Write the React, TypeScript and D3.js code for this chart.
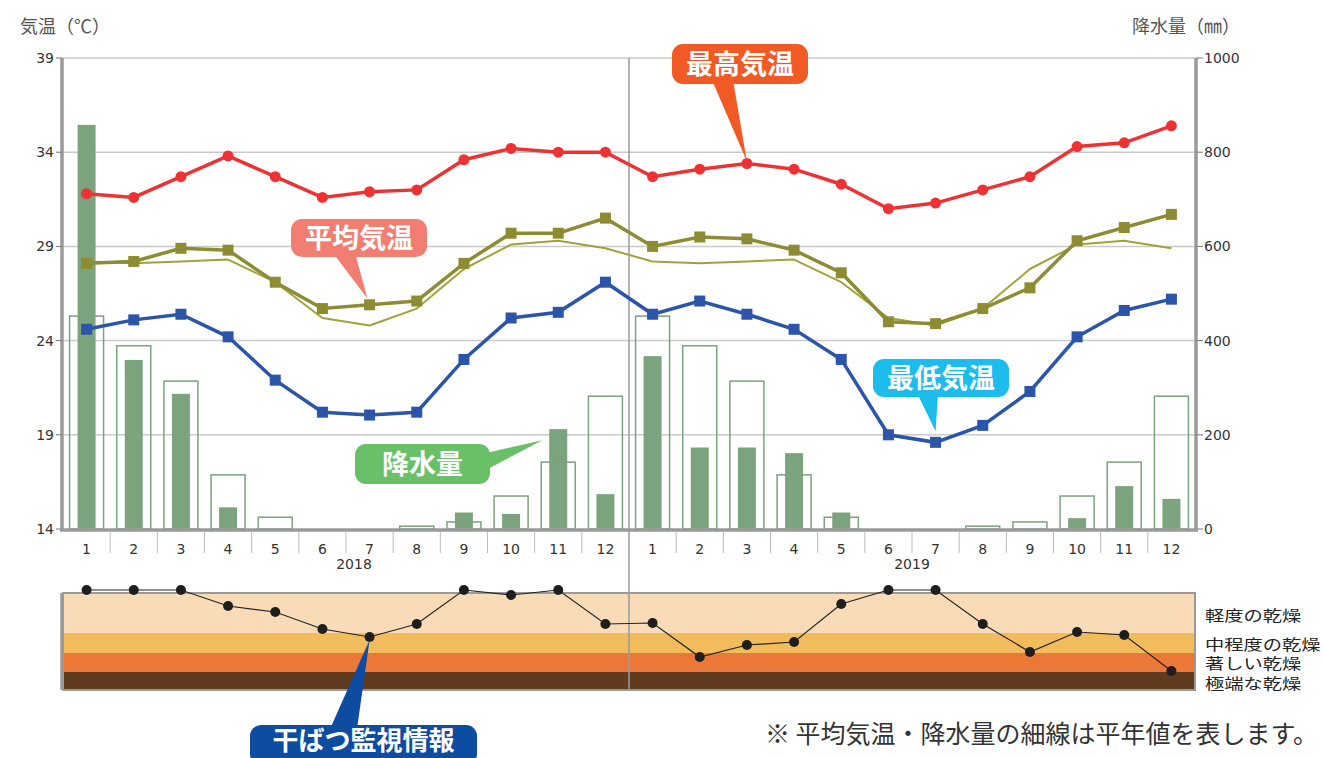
import React from "react";
import * as d3 from "d3";

const years = ["2018", "2019"];
const months = [1, 2, 3, 4, 5, 6, 7, 8, 9, 10, 11, 12];

const maxTemp = [31.8, 31.6, 32.7, 33.8, 32.7, 31.6, 31.9, 32.0, 33.6, 34.2, 34.0, 34.0,
  32.7, 33.1, 33.4, 33.1, 32.3, 31.0, 31.3, 32.0, 32.7, 34.3, 34.5, 35.4];
const avgTemp = [28.1, 28.2, 28.9, 28.8, 27.1, 25.7, 25.9, 26.1, 28.1, 29.7, 29.7, 30.5,
  29.0, 29.5, 29.4, 28.8, 27.6, 25.0, 24.9, 25.7, 26.8, 29.3, 30.0, 30.7];
const normalAvgTemp = [28.2, 28.1, 28.2, 28.3, 27.1, 25.2, 24.8, 25.7, 27.8, 29.1, 29.3, 28.9];
const minTemp = [24.6, 25.1, 25.4, 24.2, 21.9, 20.2, 20.05, 20.2, 23.0, 25.2, 25.5, 27.1,
  25.4, 26.1, 25.4, 24.6, 23.0, 19.0, 18.6, 19.5, 21.3, 24.2, 25.6, 26.2];
const precip = [858, 359, 287, 46, 0, 0, 0, 0, 35, 32, 212, 74,
  367, 173, 173, 161, 35, 0, 0, 0, 0, 23, 91, 64];
const normalPrecip = [452, 389, 314, 115, 25, 0, 0, 6, 15, 70, 142, 282];
// drought index: 0 = wettest (top) .. 100 = extreme drought (bottom)
const droughtIndex = [0, 0, 0, 16, 22, 39, 47, 34, 0, 5, 0, 34,
  33, 67, 55, 52, 14, 0, 0, 34, 62, 42, 45, 81];
const droughtLevels = ["軽度の乾燥", "中程度の乾燥", "著しい乾燥", "極端な乾燥"];
const droughtBounds = [3, 43, 63, 82, 100];
const droughtColors = ["#FADBB7", "#F2BB5B", "#EC7837", "#603B1E"];
const tempTicks = [14, 19, 24, 29, 34, 39];
const precipTicks = [0, 200, 400, 600, 800, 1000];

const FONT = "'Noto Sans CJK JP', 'Noto Sans', sans-serif";
const NUMFONT = "'DejaVu Sans', sans-serif";

const idx = d3.range(24);
const x = d3.scaleBand<number>().domain(idx).range([63, 1195]);
const cx = (i: number) => (x(i) as number) + x.bandwidth() / 2;
const yT = d3.scaleLinear().domain([14, 39]).range([529, 58]);
const yP = d3.scaleLinear().domain([0, 1000]).range([529, 58]);
const yD = d3.scaleLinear().domain([0, 100]).range([590, 690]);

function Callout({ box, color, text, base, tip, fs, ty }: any) {
  const [bx, by, bw, bh] = box;
  return (
    <g>
      <polygon points={`${base[0][0]},${base[0][1]} ${base[1][0]},${base[1][1]} ${tip[0]},${tip[1]}`} fill={color} />
      <rect x={bx} y={by} width={bw} height={bh} rx={11} fill={color} />
      <text x={bx + bw / 2} y={ty ?? by + bh / 2 + fs * 0.36} textAnchor="middle" fill="#fff"
        fontFamily={FONT} fontWeight="bold" fontSize={fs}>{text}</text>
    </g>
  );
}

export default function App() {
  const lineT = (data: number[]) =>
    d3.line<number>().x((_, i) => cx(i)).y((d) => yT(d))(data) as string;
  const normalSeries = [...normalAvgTemp, ...normalAvgTemp];
  const normalPrecipAll = [...normalPrecip, ...normalPrecip];
  const droughtLine = d3.line<number>().x((_, i) => cx(i)).y((d) => yD(d))(droughtIndex) as string;
  const xL = 63, xR = 1195;
  const yearDiv = x(12) as number;
  const sq = (px: number, py: number, s: number, color: string, key: any) => (
    <rect key={key} x={px - s / 2} y={py - s / 2} width={s} height={s} fill={color} />
  );

  return (
    <svg width={1323} height={758} style={{ position: "absolute", left: 0, top: 0, background: "#fff" }}>
      {/* axis titles */}
      <text x={20} y={33} fontFamily={FONT} fontSize={18} fill="#555">気温（℃）</text>
      <text x={1240} y={33} textAnchor="end" fontFamily={FONT} fontSize={18} fill="#555">降水量（㎜）</text>

      {/* gridlines */}
      {tempTicks.slice(1).map((t) => (
        <line key={t} x1={xL} x2={xR} y1={yT(t)} y2={yT(t)} stroke="#CACACA" strokeWidth={1.5} />
      ))}

      {/* year divider */}
      <line x1={yearDiv} x2={yearDiv} y1={58} y2={690} stroke="#9A9A9A" strokeWidth={1.5} />

      {/* precipitation bars */}
      {precip.map((p, i) => p > 0 && (
        <rect key={"b" + i} x={cx(i) - 9} y={yP(p)} width={18} height={yP(0) - yP(p)} fill="#7BA37E" />
      ))}
      {normalPrecipAll.map((p, i) => p > 0 && (
        <rect key={"n" + i} x={cx(i) - 17} y={yP(p)} width={34} height={yP(0) - yP(p)}
          fill="none" stroke="#7BA37E" strokeWidth={1.5} />
      ))}

      {/* temperature lines */}
      <path d={lineT(normalSeries)} fill="none" stroke="#A3A23A" strokeWidth={2} strokeLinejoin="round" />
      <path d={lineT(avgTemp)} fill="none" stroke="#8E8C33" strokeWidth={3.5} />
      {avgTemp.map((v, i) => sq(cx(i), yT(v), 11, "#8E8C33", "a" + i))}
      <path d={lineT(maxTemp)} fill="none" stroke="#EE3234" strokeWidth={3.5} />
      {maxTemp.map((v, i) => <circle key={"m" + i} cx={cx(i)} cy={yT(v)} r={5.5} fill="#EE3234" />)}
      <path d={lineT(minTemp)} fill="none" stroke="#2B55A9" strokeWidth={3.5} />
      {minTemp.map((v, i) => sq(cx(i), yT(v), 11, "#2B55A9", "l" + i))}

      {/* left axis */}
      <line x1={62} x2={62} y1={58} y2={531} stroke="#9A9A9A" strokeWidth={3.5} />
      {tempTicks.map((t) => (
        <g key={t}>
          <line x1={56} x2={62} y1={yT(t)} y2={yT(t)} stroke="#777" strokeWidth={1} />
          <text x={54} y={yT(t) + 5} textAnchor="end" fontFamily={NUMFONT} fontSize={14} fill="#333">{t}</text>
        </g>
      ))}
      {/* right axis */}
      <line x1={1196} x2={1196} y1={58} y2={531} stroke="#9A9A9A" strokeWidth={3.5} />
      {precipTicks.map((t) => (
        <g key={t}>
          <line x1={1196} x2={1203} y1={yP(t)} y2={yP(t)} stroke="#777" strokeWidth={1} />
          <text x={1204} y={yP(t) + 5} fontFamily={NUMFONT} fontSize={14} fill="#333">{t}</text>
        </g>
      ))}
      {/* bottom axis */}
      <line x1={60} x2={1198} y1={530} y2={530} stroke="#9A9A9A" strokeWidth={3.5} />
      {idx.slice(1).filter((i) => i !== 12).map((i) => (
        <line key={"t" + i} x1={x(i) as number} x2={x(i) as number} y1={532} y2={553} stroke="#BDBDBD" strokeWidth={1} />
      ))}
      {idx.map((i) => (
        <text key={"ml" + i} x={cx(i)} y={554} textAnchor="middle" fontFamily={NUMFONT} fontSize={14} fill="#333">
          {months[i % 12]}
        </text>
      ))}
      {years.map((yr, k) => (
        <text key={yr} x={((x(k * 12) as number) + (x(k * 12 + 11) as number) + x.bandwidth()) / 2 + (k === 0 ? 8 : 0)}
          y={569} textAnchor="middle" fontFamily={NUMFONT} fontSize={14} fill="#333">{yr}</text>
      ))}

      {/* drought panel */}
      {droughtLevels.map((lvl, k) => (
        <rect key={lvl} x={xL} y={yD(droughtBounds[k])} width={xR - xL}
          height={yD(droughtBounds[k + 1]) - yD(droughtBounds[k])} fill={droughtColors[k]} />
      ))}
      <rect x={xL} y={yD(droughtBounds[0])} width={xR - xL} height={yD(100) - yD(droughtBounds[0])}
        fill="none" stroke="#9A9A9A" strokeWidth={2} />
      <line x1={62} x2={62} y1={yD(droughtBounds[0])} y2={yD(100)} stroke="#9A9A9A" strokeWidth={3.5} />
      <line x1={yearDiv} x2={yearDiv} y1={yD(droughtBounds[0])} y2={yD(100)} stroke="#9A9A9A" strokeWidth={1.5} />
      <path d={droughtLine} fill="none" stroke="#222" strokeWidth={1.2} />
      {droughtIndex.map((v, i) => <circle key={"d" + i} cx={cx(i)} cy={yD(v)} r={5} fill="#1E1E1E" />)}
      {droughtLevels.map((lvl, k) => (
        <text key={"dl" + lvl} fontFamily={FONT} fontSize={18} fill="#222"
          transform={`translate(1205,${[621, 650, 669, 689][k]}) scale(1.07,0.82)`}>{lvl}</text>
      ))}

      {/* callouts */}
      <Callout box={[672, 44, 136, 40]} color="#F15A24" text="最高気温" fs={27}
        base={[[712, 80], [733, 80]]} tip={[cx(14), yT(maxTemp[14]) - 2]} />
      <Callout box={[291, 219, 136, 38]} color="#F27E72" text="平均気温" fs={27}
        base={[[333, 253], [355, 253]]} tip={[cx(6) - 2, yT(avgTemp[6]) - 6]} />
      <Callout box={[873, 359, 136, 38]} color="#1CBCEC" text="最低気温" fs={27}
        base={[[917, 393], [938, 393]]} tip={[cx(18), yT(minTemp[18]) - 11]} />
      <Callout box={[355, 444, 135, 40]} color="#6ABF69" text="降水量" fs={27}
        base={[[486, 453], [486, 470]]} tip={[cx(10) - 16, yP(precip[10]) + 11]} />
      <Callout box={[250, 725, 227, 40]} color="#0C4DA2" text="干ばつ監視情報" fs={26} ty={750}
        base={[[330, 729], [357, 729]]} tip={[cx(6), yD(droughtIndex[6]) + 3]} />

      {/* footnote */}
      <text x={765} y={743} fontFamily={FONT} fontSize={25} fill="#333">※ 平均気温・降水量の細線は平年値を表します。</text>
    </svg>
  );
}
